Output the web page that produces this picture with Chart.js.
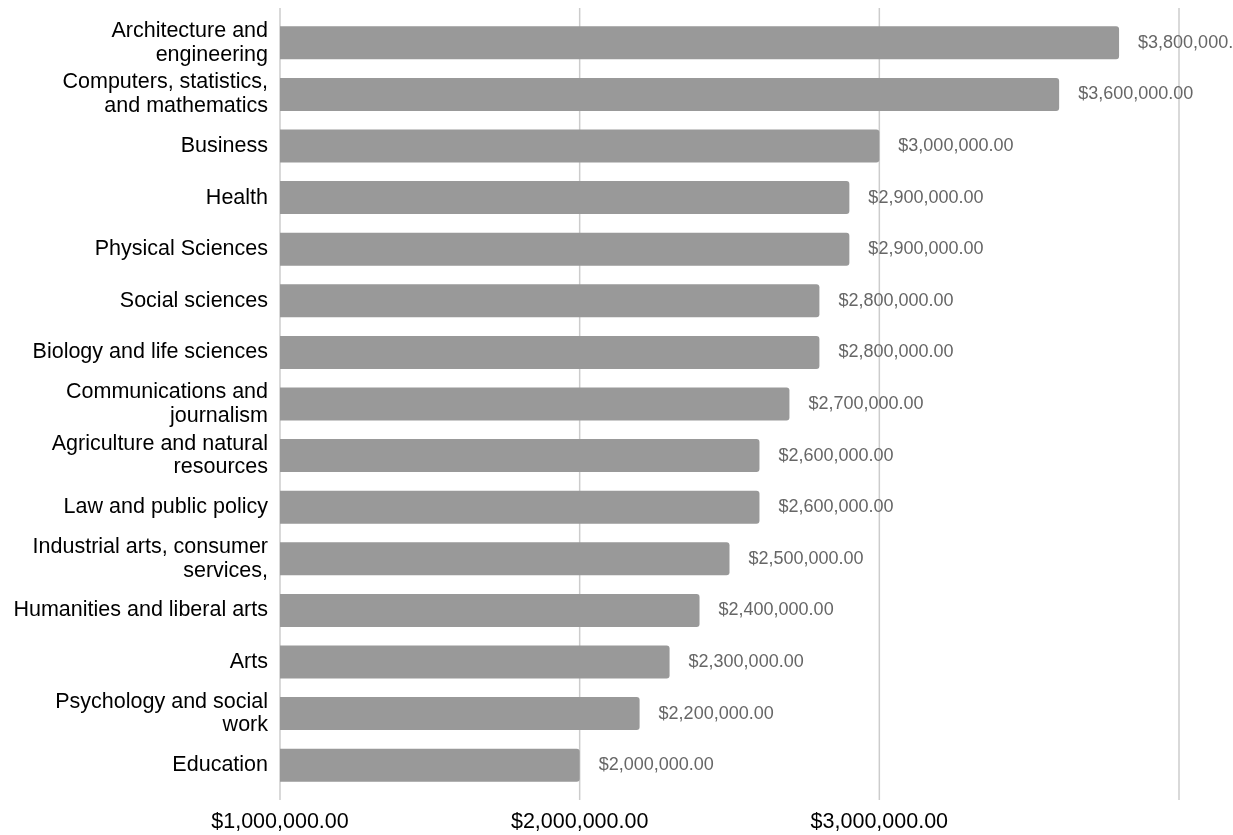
<!DOCTYPE html>
<html lang="en">
<head>
<meta charset="UTF-8">
<title>Lifetime earnings by major</title>
<style>
  body { margin: 0; background: #fff; }
  #wrap { width: 1233px; height: 835px; position: relative; }
</style>
</head>
<body>
<div id="wrap"><canvas id="myChart"></canvas></div>

<script src="https://cdn.jsdelivr.net/npm/chart.js@4/dist/chart.umd.min.js"></script>
<script>
// categories (multi-line where the picture wraps)
const majors = [
  ["Architecture and", "engineering"],
  ["Computers, statistics,", "and mathematics"],
  "Business",
  "Health",
  "Physical Sciences",
  "Social sciences",
  "Biology and life sciences",
  ["Communications and", "journalism"],
  ["Agriculture and natural", "resources"],
  "Law and public policy",
  ["Industrial arts, consumer", "services,"],
  "Humanities and liberal arts",
  "Arts",
  ["Psychology and social", "work"],
  "Education"
];

const earnings = [
  3800000, 3600000, 3000000, 2900000, 2900000,
  2800000, 2800000, 2700000, 2600000, 2600000,
  2500000, 2400000, 2300000, 2200000, 2000000
];

// x axis ticks
const xMin = 1000000;
const xMax = 4000000;
const xStep = 1000000;

const FONT = "'Liberation Sans', Arial, Helvetica, sans-serif";

function money(v) {
  return "$" + v.toLocaleString("en-US", { minimumFractionDigits: 2, maximumFractionDigits: 2 });
}

// gridlines run a little past the bars at top and bottom
const gridPlugin = {
  id: "gridPlugin",
  beforeDatasetsDraw(chart) {
    const ctx = chart.ctx;
    const x = chart.scales.x;
    const area = chart.chartArea;
    ctx.save();
    ctx.strokeStyle = "#cccccc";
    ctx.lineWidth = 1.5;
    x.ticks.forEach((t) => {
      const px = x.getPixelForValue(t.value);
      ctx.beginPath();
      ctx.moveTo(px, area.top - 9);
      ctx.lineTo(px, area.bottom + 9);
      ctx.stroke();
    });
    ctx.restore();
  }
};

// value labels right of each bar
const valueLabels = {
  id: "valueLabels",
  afterDatasetsDraw(chart) {
    const ctx = chart.ctx;
    const meta = chart.getDatasetMeta(0);
    ctx.save();
    ctx.font = "18px " + FONT;
    ctx.fillStyle = "#666666";
    ctx.textAlign = "left";
    ctx.textBaseline = "middle";
    meta.data.forEach((bar, i) => {
      ctx.fillText(money(earnings[i]), bar.x + 19, bar.y);
    });
    ctx.restore();
  }
};

const ctx = document.getElementById("myChart").getContext("2d");
const myChart = new Chart(ctx, {
  type: "bar",
  data: {
    labels: majors,
    datasets: [{
      data: earnings,
      backgroundColor: "#999999",
      borderRadius: 3,
      borderSkipped: "start",
      base: xMin,
      barPercentage: 0.64,
      categoryPercentage: 1
    }]
  },
  options: {
    indexAxis: "y",
    responsive: true,
    maintainAspectRatio: false,
    animation: false,
    layout: { padding: { top: 17, right: 54, bottom: 0, left: 0 } },
    plugins: {
      legend: { display: false },
      tooltip: { enabled: false }
    },
    scales: {
      x: {
        min: xMin,
        max: xMax,
        grid: { display: false, drawTicks: false },
        border: { display: false },
        afterFit: (scale) => {
          scale.height = 44;
          scale.paddingLeft = 0;
          scale.paddingRight = 0;
        },
        ticks: {
          stepSize: xStep,
          maxRotation: 0,
          autoSkip: false,
          padding: 18,
          color: "#000000",
          font: { family: FONT, size: 21.5 },
          callback: (v) => (v >= xMax ? "" : money(v))
        }
      },
      y: {
        grid: { display: false, drawTicks: false },
        border: { display: false },
        afterFit: (scale) => {
          scale.width = 280;
          scale.paddingTop = 0;
          scale.paddingBottom = 0;
        },
        ticks: {
          padding: 12,
          autoSkip: false,
          color: "#000000",
          font: { family: FONT, size: 21.5, lineHeight: 1.1 }
        }
      }
    }
  },
  plugins: [gridPlugin, valueLabels]
});
</script>
</body>
</html>
